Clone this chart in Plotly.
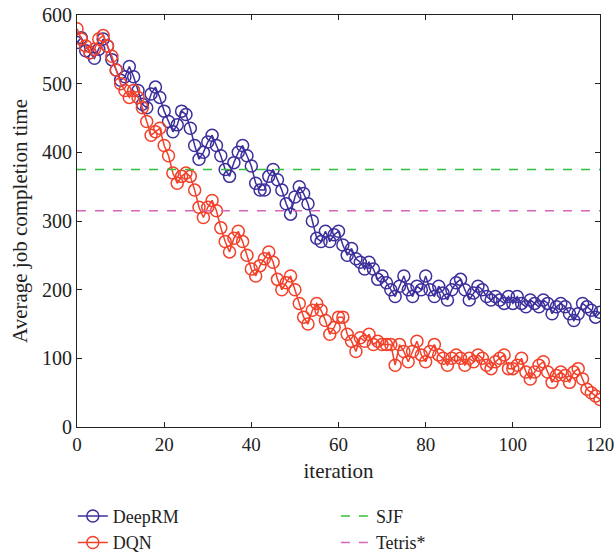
import plotly.graph_objects as go

iterations = list(range(0, 121))

deeprm = [560, 567, 548, 545, 537, 550, 565, 555, 535, 520,
          505, 510, 525, 510, 490, 470, 465, 485, 495, 480,
          460, 445, 430, 440, 460, 455, 435, 410, 390, 400,
          415, 425, 410, 395, 375, 365, 385, 400, 410, 395,
          380, 355, 345, 345, 365, 375, 360, 345, 325, 310,
          335, 350, 340, 325, 300, 275, 270, 285, 270, 280,
          285, 265, 250, 260, 245, 240, 230, 240, 230, 215,
          220, 210, 200, 190, 205, 220, 200, 190, 205, 200,
          220, 200, 190, 205, 195, 185, 200, 210, 215, 200,
          185, 195, 205, 200, 190, 185, 190, 185, 180, 190,
          180, 190, 180, 175, 185, 180, 175, 185, 180, 165,
          175, 180, 175, 165, 155, 165, 180, 175, 170, 160,
          167]

dqn = [580, 565, 555, 545, 550, 565, 570, 555, 540, 520,
       500, 490, 480, 490, 480, 465, 445, 425, 430, 435,
       410, 395, 370, 355, 365, 370, 365, 345, 320, 305,
       320, 330, 315, 290, 270, 255, 275, 285, 270, 250,
       230, 220, 235, 245, 255, 240, 215, 200, 210, 220,
       200, 180, 160, 150, 170, 180, 170, 155, 135, 145,
       160, 160, 135, 125, 110, 130, 125, 135, 120, 125,
       120, 120, 120, 90, 120, 110, 95, 110, 125, 105,
       95, 110, 120, 105, 100, 90, 100, 105, 100, 90,
       100, 95, 105, 100, 90, 85, 95, 100, 105, 85,
       85, 90, 100, 80, 70, 80, 90, 95, 80, 65,
       75, 80, 75, 65, 80, 85, 70, 55, 50, 45,
       40]

sjf_value = 375
tetris_value = 315

blue = "#3b2f9c"
red = "#f2402a"
green = "#33c03a"
pink = "#d764b4"
font_family = "Liberation Serif, DejaVu Serif, serif"

fig = go.Figure()
fig.add_trace(go.Scatter(
    x=iterations, y=deeprm, mode="lines+markers", name="DeepRM",
    line=dict(color=blue, width=1.5),
    marker=dict(symbol="circle-open", size=12, color=blue, line=dict(width=1.5)),
    legend="legend"))
fig.add_trace(go.Scatter(
    x=iterations, y=dqn, mode="lines+markers", name="DQN",
    line=dict(color=red, width=1.5),
    marker=dict(symbol="circle-open", size=12, color=red, line=dict(width=1.5)),
    legend="legend"))
fig.add_trace(go.Scatter(
    x=[iterations[0], iterations[-1]], y=[sjf_value, sjf_value], mode="lines", name="SJF",
    line=dict(color=green, width=1.5, dash="dash"), legend="legend2"))
fig.add_trace(go.Scatter(
    x=[iterations[0], iterations[-1]], y=[tetris_value, tetris_value], mode="lines", name="Tetris*",
    line=dict(color=pink, width=1.5, dash="dash"), legend="legend2"))

axis_common = dict(
    showline=True, linecolor="#222", linewidth=1.2, mirror="ticks",
    ticks="inside", ticklen=5, tickcolor="#222", showgrid=False, zeroline=False,
    automargin=False, ticklabeloverflow="allow",
)

fig.update_layout(
    width=615, height=554,
    margin=dict(l=77, r=15, t=15, b=127, autoexpand=False),
    plot_bgcolor="white", paper_bgcolor="white",
    font=dict(family=font_family, size=18, color="#222"),
    xaxis=dict(range=[0, 120], tickvals=[0, 20, 40, 60, 80, 100, 120],
               tickfont=dict(family=font_family, size=19, color="#222"),
               title=dict(text="iteration", standoff=9, font=dict(size=21)), **axis_common),
    yaxis=dict(range=[0, 600], tickvals=[0, 100, 200, 300, 400, 500, 600],
               tickfont=dict(family=font_family, size=20, color="#222"),
               title=dict(text="Average job completion time", standoff=8, font=dict(size=21)),
               **axis_common),
    legend=dict(x=-0.008, y=-0.172, xanchor="left", yanchor="top", orientation="v",
                font=dict(size=18), bgcolor="rgba(0,0,0,0)", tracegroupgap=0, itemwidth=30),
    legend2=dict(x=0.495, y=-0.172, xanchor="left", yanchor="top", orientation="v",
                 font=dict(size=18), bgcolor="rgba(0,0,0,0)", tracegroupgap=0, itemwidth=30),
)

fig.write_html(
    "out.html",
    config={"displayModeBar": False},
    post_script="document.body.style.margin='0';document.body.style.overflow='hidden';",
)
